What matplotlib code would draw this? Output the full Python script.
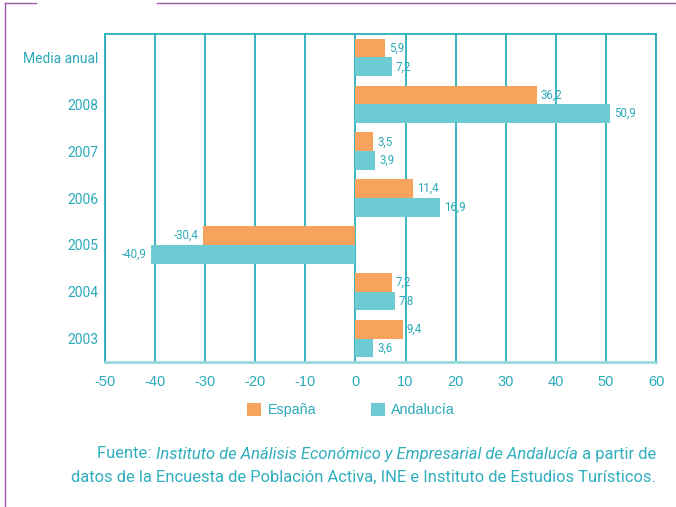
import matplotlib
matplotlib.use("Agg")
import matplotlib.pyplot as plt
from matplotlib.lines import Line2D
from matplotlib.patches import Patch
import numpy as np

categories = ["Media anual", "2008", "2007", "2006", "2005", "2004", "2003"]
espana = [5.9, 36.2, 3.5, 11.4, -30.4, 7.2, 9.4]
andalucia = [7.2, 50.9, 3.9, 16.9, -40.9, 7.8, 3.6]
espana_lbl = ["5,9", "36,2", "3,5", "11,4", "-30,4", "7,2", "9,4"]
andalucia_lbl = ["7,2", "50,9", "3,9", "16,9", "-40,9", "7,8", "3,6"]
xticks = [-50, -40, -30, -20, -10, 0, 10, 20, 30, 40, 50, 60]

C_ORANGE = "#F8A35D"
C_TEAL = "#6DCCD3"
C_TXT = "#2AAAB9"
C_GRID = "#2AAFBE"
NARROW = ["Roboto", "DejaVu Sans"]
REG = ["Liberation Sans", "DejaVu Sans"]

W, H = 676, 507
fig = plt.figure(figsize=(W / 100, H / 100), dpi=100)
ax = fig.add_axes([105 / W, 1 - 362 / H, (656 - 105) / W, (362 - 34) / H])

y = np.arange(len(categories))
bh = 0.4
ax.barh(y - bh / 2, espana, height=bh, color=C_ORANGE, zorder=3, label="España")
ax.barh(y + bh / 2, andalucia, height=bh, color=C_TEAL, zorder=3, label="Andalucía")

for i in range(len(categories)):
    for v, lbl, yy in ((espana[i], espana_lbl[i], y[i] - bh / 2),
                       (andalucia[i], andalucia_lbl[i], y[i] + bh / 2)):
        off = 3 if v >= 0 else -3
        ax.annotate(lbl, (v, yy), xytext=(off, 0), textcoords="offset points",
                    ha="left" if v >= 0 else "right", va="center",
                    fontsize=8.3, color=C_TXT, family=NARROW, zorder=4)

ax.set_xlim(-50, 60)
ax.set_ylim(len(categories) - 0.5, -0.5)
ax.set_xticks(xticks)
ax.set_xticklabels([str(t) for t in xticks], family=REG, fontsize=10.5, color=C_TXT)
ax.set_yticks(y)
ax.set_yticklabels(categories, family=NARROW, fontsize=10, color=C_TXT)
ax.tick_params(axis="both", length=0)
ax.tick_params(axis="x", pad=9)
ax.tick_params(axis="y", pad=5)

ax.grid(axis="x", color=C_GRID, linewidth=1.3, zorder=1)
ax.set_axisbelow(True)
for s in ("left", "right", "top"):
    ax.spines[s].set_color(C_GRID)
    ax.spines[s].set_linewidth(1.3)
ax.spines["bottom"].set_color("#97D9DF")
ax.spines["bottom"].set_linewidth(2)

handles = [Patch(facecolor=C_ORANGE, edgecolor="none"), Patch(facecolor=C_TEAL, edgecolor="none")]
fig.legend(handles, ["España", "Andalucía"], loc="center", bbox_to_anchor=(351 / W, 1 - 410 / H),
           ncol=2, frameon=False, handlelength=1.0, handleheight=1.1, handletextpad=0.45,
           columnspacing=3.8, prop={"family": REG, "size": 10.3}, labelcolor=C_TXT)

# purple frame decoration
P = "#9B5BA5"
fig.add_artist(Line2D([5 / W, 36 / W], [1 - 3 / H, 1 - 3 / H], color=P, lw=1, transform=fig.transFigure))
fig.add_artist(Line2D([157 / W, 1], [1 - 3 / H, 1 - 3 / H], color=P, lw=1, transform=fig.transFigure))
fig.add_artist(Line2D([5 / W, 5 / W], [1 - 3 / H, 0], color=P, lw=1, transform=fig.transFigure))

# caption, right-aligned, mixed styles
CAP = "#2FAEBD"
CAPF = ["Roboto", "DejaVu Sans"]
fig.canvas.draw()
r = fig.canvas.get_renderer()
line2 = "datos de la Encuesta de Población Activa, INE e Instituto de Estudios Turísticos."
probe = fig.text(0, 0, line2, fontsize=10, family=CAPF)
wpx = probe.get_window_extent(r).width
probe.remove()
cs = 10 * 583 / wpx

xr = 656 / W
y1 = 1 - 454 / H
y2 = 1 - 477 / H
parts = [("Fuente: ", "normal"), ("Instituto de Análisis Económico y Empresarial de Andalucía", "italic"),
         (" a partir de", "normal")]
x = xr
for txt, st in reversed(parts):
    t = fig.text(x, y1, txt, ha="right", va="center", fontsize=cs, style=st, color=CAP,
                 family=CAPF)
    bb = t.get_window_extent(r)
    x = bb.x0 / W
fig.text(xr, y2, line2, ha="right", va="center", fontsize=cs, color=CAP, family=CAPF)

fig.savefig("out.png", dpi=100)
